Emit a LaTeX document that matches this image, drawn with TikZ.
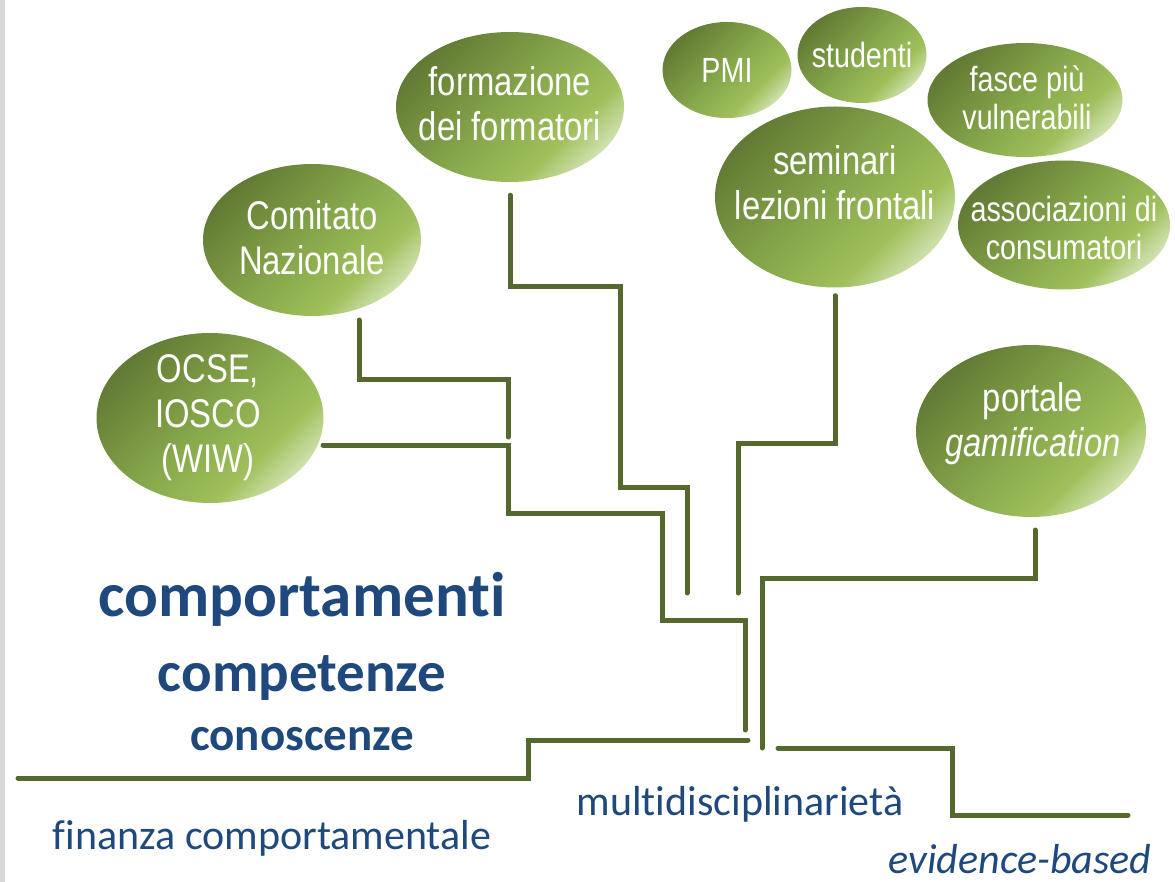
\documentclass[tikz,border=0pt]{standalone}
\usepackage{fontspec}
\usetikzlibrary{shapes.geometric}
\newfontfamily\bubfont[FakeStretch=0.82]{Liberation Sans}
\newfontfamily\calfont[Ligatures=NoCommon]{Carlito}
\definecolor{branchgreen}{RGB}{85,104,45}
\definecolor{titleblue}{RGB}{31,73,125}
\definecolor{bubdark}{RGB}{98,122,52}
\definecolor{bubmid}{RGB}{135,168,75}
\definecolor{bubbright}{RGB}{160,192,92}
\definecolor{bublight}{RGB}{205,224,172}
\definecolor{stripgray}{RGB}{217,217,217}
\pgfdeclareverticalshading{bubshade}{100bp}{color(0bp)=(bublight); color(25bp)=(bublight);
  color(34bp)=(bubbright); color(50bp)=(bubmid); color(75bp)=(bubdark); color(100bp)=(bubdark)}

\begin{document}
\begin{tikzpicture}[x=1pt, y=-1pt,
  bubble/.style={ellipse, inner sep=0pt, shade, shading=bubshade, shading angle=45},
  bigtext/.style={text=white, align=center, inner sep=0pt, font=\bubfont\fontsize{40}{45}\selectfont},
  smalltext/.style={text=white, align=center, inner sep=0pt, font=\bubfont\fontsize{35}{38}\selectfont},
  branch/.style={branchgreen, line width=5pt, line cap=round},
  bluetext/.style={titleblue, anchor=base, inner sep=0pt}]
  \useasboundingbox (0,0) rectangle (1175,882);
  \fill[stripgray] (0,0) rectangle (5,882);

  % bubbles
  \node[bubble, minimum width=228pt, minimum height=150pt] (formatori) at (510,107) {};
  \node[bubble, minimum width=218pt, minimum height=152pt] (comitato) at (312,240) {};
  \node[bubble, minimum width=227pt, minimum height=170pt] (ocse) at (210,418) {};
  \node[bubble, minimum width=129pt, minimum height=96pt] (pmi) at (727,70) {};
  \node[bubble, minimum width=129pt, minimum height=96pt] (studenti) at (862,55) {};
  \node[bubble, minimum width=195pt, minimum height=114pt] (fasce) at (1025,100) {};
  \node[bubble, minimum width=240pt, minimum height=181pt] (seminari) at (835,197) {};
  \node[bubble, minimum width=212pt, minimum height=129pt] (consumatori) at (1064,225) {};
  \node[bubble, minimum width=230pt, minimum height=172pt] (portale) at (1031,431) {};

  % bubble texts
  \node[bigtext] (formatoritxt) at (510,104) {formazione\\dei formatori};
  \node[bigtext] (comitatotxt) at (312,238) {Comitato\\Nazionale};
  \node[bigtext] (ocsetxt) at (208,418) {OCSE,\\IOSCO\\(WIW)};
  \node[smalltext] (pmitxt) at (727,70) {PMI};
  \node[smalltext] (studentitxt) at (862,55) {studenti};
  \node[smalltext] (fascetxt) at (1027,98) {fasce più\\vulnerabili};
  \node[bigtext] (seminaritxt) at (835,183) {seminari\\lezioni frontali};
  \node[smalltext] (consumatoritxt) at (1064,228) {associazioni di\\consumatori};
  \node[bigtext] (portaletxt) at (1033,424) {portale\\\textit{gamification}};

  % blue labels
  \node[bluetext, font=\calfont\bfseries\fontsize{63}{63}\selectfont] (comport) at (302,616) {comportamenti};
  \node[bluetext, font=\calfont\bfseries\fontsize{57}{57}\selectfont] (compet) at (302,691) {competenze};
  \node[bluetext, font=\calfont\bfseries\fontsize{47}{47}\selectfont] (conosc) at (302,750) {conoscenze};
  \node[bluetext, font=\calfont\fontsize{42}{42}\selectfont] (finanza) at (272,849) {finanza comportamentale};
  \node[bluetext, font=\calfont\fontsize{42}{42}\selectfont] (multi) at (740,815) {multidisciplinarietà};
  \node[bluetext, font=\calfont\itshape\fontsize{42}{42}\selectfont] (evidence) at (1020,873) {evidence-based};

  % free ends of the branches
  \coordinate (endcomitato) at (508,437);
  \coordinate (endocse) at (745,730);
  \coordinate (endformatori) at (687,593);
  \coordinate (endseminari) at (738,593);
  \coordinate (endportale) at (762,748);
  \coordinate (groundleft) at (18,778);
  \coordinate (groundmid) at (748,740);
  \coordinate (groundstart) at (778,748);
  \coordinate (groundright) at (1128,815);

  % branches
  \draw[branch] ([shift={(47,80)}]comitato.center) |- (508,380) -- (endcomitato);
  \draw[branch] ([shift={(113,27)}]ocse.center) -| (508,513) -| (662,620) -| (endocse);
  \draw[branch] ([yshift=-13pt]formatori.south) |- (620,287) |- (687,487) -- (endformatori);
  \draw[branch] ([yshift=-8pt]seminari.south) |- (738,443) -- (endseminari);
  \draw[branch] ([shift={(4,99)}]portale.center) |- (762,578) -- (endportale);
  \draw[branch] (groundleft) -| (528,740) -- (groundmid);
  \draw[branch] (groundstart) -| (952,815) -- (groundright);
\end{tikzpicture}
\end{document}
